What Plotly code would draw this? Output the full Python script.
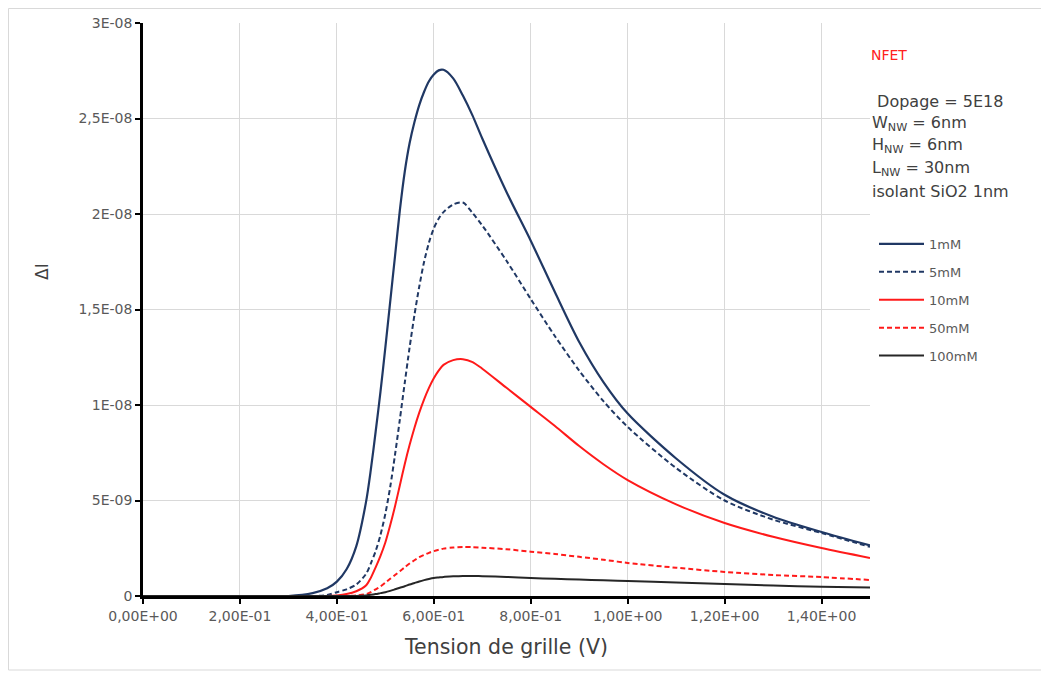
import plotly.graph_objects as go

# Gate voltage (V)
x_vals = [0.0, 0.30, 0.35, 0.38, 0.40, 0.42, 0.44,
          0.46, 0.47, 0.48, 0.49, 0.50, 0.51, 0.52, 0.53, 0.54, 0.55, 0.56, 0.57, 0.58,
          0.59, 0.60, 0.61, 0.62,
          0.64, 0.66, 0.68, 0.70,
          0.75, 0.80, 0.85, 0.90, 0.95, 1.00,
          1.10, 1.20, 1.30, 1.40, 1.50]

# Delta I values, in units of 1E-08
y_1mM = [0.0, 0.0, 0.015, 0.04, 0.075, 0.14, 0.26,
         0.49, 0.66, 0.86, 1.07, 1.30, 1.54, 1.78, 2.02, 2.22, 2.37, 2.48, 2.57, 2.64,
         2.695, 2.73, 2.752, 2.755,
         2.71, 2.62, 2.515, 2.395,
         2.115, 1.86, 1.59, 1.33, 1.12, 0.955,
         0.72, 0.53, 0.415, 0.335, 0.265]
y_5mM = [0.0, 0.0, 0.0, 0.005, 0.02, 0.035, 0.06,
         0.115, 0.17, 0.235, 0.32, 0.43, 0.57, 0.74, 0.925, 1.115, 1.30, 1.47, 1.62, 1.75,
         1.85, 1.925, 1.975, 2.01,
         2.05, 2.06, 2.005, 1.94,
         1.755, 1.555, 1.36, 1.18, 1.02, 0.885,
         0.67, 0.50, 0.40, 0.33, 0.257]
y_10mM = [0.0, 0.0, 0.0, 0.0, 0.003, 0.01, 0.025,
          0.055, 0.095, 0.15, 0.21, 0.28, 0.37, 0.47, 0.58, 0.69, 0.79, 0.88, 0.96, 1.03,
          1.09, 1.14, 1.18, 1.21,
          1.235, 1.24, 1.225, 1.19,
          1.09, 0.99, 0.89, 0.785, 0.69, 0.607,
          0.48, 0.382, 0.31, 0.251, 0.199]
y_50mM = [0.0, 0.0, 0.0, 0.0, 0.0, 0.0, 0.003,
          0.01, 0.02, 0.035, 0.05, 0.07, 0.09, 0.11, 0.13, 0.15, 0.17, 0.187, 0.203, 0.215,
          0.226, 0.235, 0.242, 0.248,
          0.254, 0.257, 0.256, 0.253,
          0.245, 0.232, 0.22, 0.205, 0.19, 0.173,
          0.148, 0.126, 0.11, 0.099, 0.084]
y_100mM = [0.0, 0.0, 0.0, 0.0, 0.0, 0.0, 0.0,
           0.003, 0.006, 0.01, 0.015, 0.02, 0.027, 0.035, 0.043, 0.051, 0.06, 0.068, 0.076, 0.083,
           0.089, 0.094, 0.097, 0.10,
           0.103, 0.105, 0.105, 0.104,
           0.10, 0.094, 0.09, 0.086, 0.082, 0.079,
           0.071, 0.063, 0.055, 0.048, 0.045]

series_names = ["1mM", "5mM", "10mM", "50mM", "100mM"]
series_values = [y_1mM, y_5mM, y_10mM, y_50mM, y_100mM]

x_tickvals = [0.0, 0.2, 0.4, 0.6, 0.8, 1.0, 1.2, 1.4]
x_ticktext = ["0,00E+00", "2,00E-01", "4,00E-01", "6,00E-01", "8,00E-01",
              "1,00E+00", "1,20E+00", "1,40E+00"]
y_tickvals = [0, 5e-9, 1e-8, 1.5e-8, 2e-8, 2.5e-8, 3e-8]
y_ticktext = ["0", "5E-09", "1E-08", "1,5E-08", "2E-08", "2,5E-08", "3E-08"]

info_lines = [" Dopage = 5E18", "W<sub>NW</sub> = 6nm", "H<sub>NW</sub> = 6nm",
              "L<sub>NW</sub> = 30nm", "isolant SiO2 1nm"]

styles = [
    dict(color="#203864", dash="solid", width=2.2),
    dict(color="#203864", dash="5px,3px", width=2),
    dict(color="#ff1a1a", dash="solid", width=2),
    dict(color="#ff1a1a", dash="5px,3px", width=2),
    dict(color="#262626", dash="solid", width=2),
]

FONT = "'DejaVu Sans', sans-serif"

# page offset of the figure inside the browser page (body margin)
OFF = 8
W, H = 1049 - OFF, 674 - OFF
L, R, T, B = 143 - OFF, 870 - OFF, 23 - OFF, 596 - OFF


def px(xp):
    return (xp - OFF - L) / (R - L)


def py(yp):
    return (B - (yp - OFF)) / (B - T)


fig = go.Figure()
for name, vals, st in zip(series_names, series_values, styles):
    fig.add_trace(go.Scatter(
        x=x_vals, y=[v * 1e-8 for v in vals], mode="lines", name=name,
        line=dict(color=st["color"], dash=st["dash"], width=st["width"], shape="spline", smoothing=0.8),
        legendgroup=name,
    ))

fig.update_layout(
    width=W, height=H,
    margin=dict(l=L, r=W - R, t=T, b=H - B, autoexpand=False),
    paper_bgcolor="white", plot_bgcolor="white",
    font=dict(family=FONT, color="#595959", size=12),
    showlegend=True,
    legend=dict(x=px(874), y=py(229), xanchor="left", yanchor="top",
                font=dict(size=13, color="#595959", family=FONT),
                tracegroupgap=8, bgcolor="rgba(0,0,0,0)", itemwidth=45),
    xaxis=dict(range=[0, 1.5], tickvals=x_tickvals, ticktext=x_ticktext,
               showgrid=True, gridcolor="#d9d9d9", gridwidth=1,
               showline=True, linecolor="black", linewidth=2.5,
               ticks="outside", ticklen=5, tickwidth=2, tickcolor="black",
               tickfont=dict(size=14, color="#595959"),
               title=dict(text="Tension de grille (V)", font=dict(size=20.5, color="#404040"), standoff=18),
               zeroline=False),
    yaxis=dict(range=[0, 3e-8], tickvals=y_tickvals, ticktext=y_ticktext,
               showgrid=True, gridcolor="#d9d9d9", gridwidth=1,
               showline=True, linecolor="black", linewidth=2.5,
               ticks="outside", ticklen=5, tickwidth=2, tickcolor="black",
               tickfont=dict(size=14, color="#595959"),
               zeroline=False),
)

annotations = [
    dict(text="ΔI", x=px(42), y=py(272), xref="paper", yref="paper", showarrow=False,
         xanchor="center", yanchor="middle",
         textangle=-90, font=dict(size=17, color="#404040", family=FONT)),
    dict(text="NFET", x=px(869), y=py(55), xref="paper", yref="paper", showarrow=False,
         xanchor="left", yanchor="middle", font=dict(size=14, color="#ff2020", family=FONT)),
]
for i, line in enumerate(info_lines):
    annotations.append(dict(text=line, x=px(870), y=py(101 + i * 22.5), xref="paper", yref="paper",
                            showarrow=False, xanchor="left", yanchor="middle",
                            font=dict(size=16, color="#404040", family=FONT)))
fig.update_layout(annotations=annotations)

fig.add_shape(type="rect", xref="paper", yref="paper",
              x0=px(8.5), x1=px(1070), y0=py(670), y1=py(8.5),
              line=dict(color="#d9d9d9", width=1), layer="below")

fig.write_html("out.html")
